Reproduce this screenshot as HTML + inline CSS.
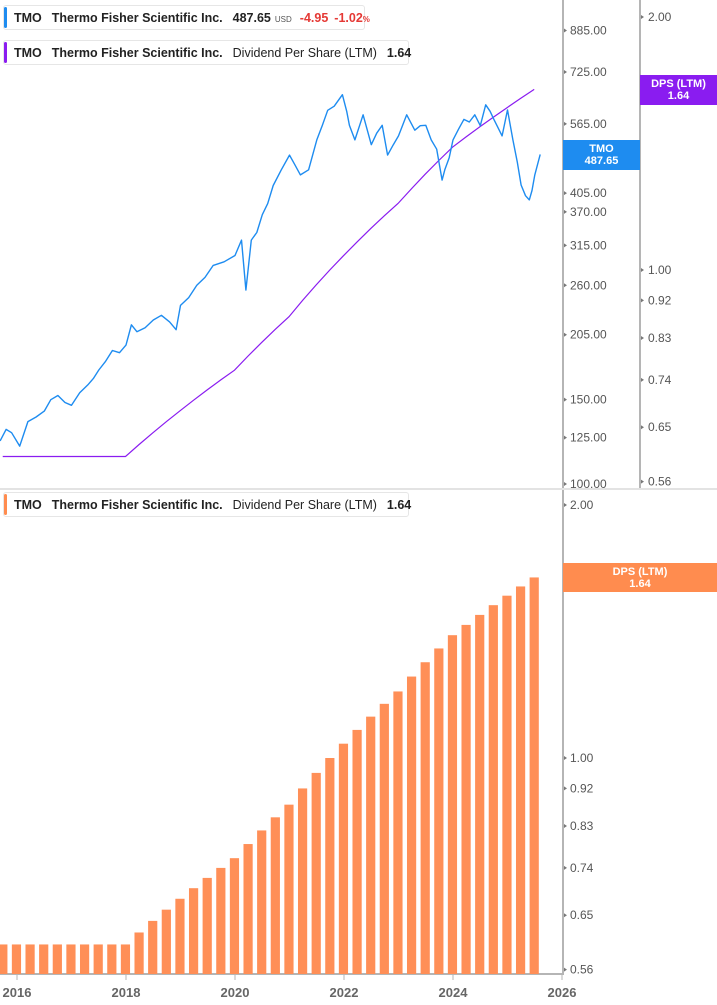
<!DOCTYPE html>
<html><head><meta charset="utf-8">
<style>
html,body{margin:0;padding:0;background:#fff;}
body{width:717px;height:1005px;overflow:hidden;position:relative;font-family:"Liberation Sans",sans-serif;}
svg{position:absolute;left:0;top:0;}
.leg{position:absolute;left:3px;height:25px;border:1px solid #e6e6e6;border-radius:3px;background:#fff;font-size:12.5px;font-weight:bold;color:#222;line-height:25px;white-space:nowrap;box-sizing:border-box;padding-left:10px;}
.leg .bar{position:absolute;left:0;top:1px;bottom:1px;width:3px;border-radius:2px;}
.leg span{margin-right:10px;}
.tag{position:absolute;color:#fff;font-weight:bold;font-size:11px;text-align:center;line-height:12px;}
</style></head>
<body>
<svg id="chart" width="717" height="1005"></svg>

<div class="leg" style="top:5px;width:362px"><div class="bar" style="background:#1e8cf0"></div><span>TMO</span><span>Thermo Fisher Scientific Inc.</span><span style="margin-right:4px">487.65</span><span style="font-size:8px;font-weight:normal;color:#555;margin-right:8px">USD</span><span style="color:#e53935;margin-right:6px">-4.95</span><span style="color:#e53935">-1.02<small style="font-size:8px">%</small></span></div>
<div class="leg" style="top:40px;width:406px"><div class="bar" style="background:#8a1cf0"></div><span>TMO</span><span>Thermo Fisher Scientific Inc.</span><span style="font-weight:normal">Dividend Per Share (LTM)</span><span>1.64</span></div>
<div class="leg" style="top:492px;width:406px"><div class="bar" style="background:#ff8c4f"></div><span>TMO</span><span>Thermo Fisher Scientific Inc.</span><span style="font-weight:normal">Dividend Per Share (LTM)</span><span>1.64</span></div>

<div class="tag" style="left:563px;top:140px;width:77px;height:30px;background:#1e8cf0;padding-top:3px;box-sizing:border-box">TMO<br>487.65</div>
<div class="tag" style="left:640px;top:75px;width:77px;height:30px;background:#8a1cf0;padding-top:3px;box-sizing:border-box">DPS (LTM)<br>1.64</div>
<div class="tag" style="left:563px;top:563px;width:154px;height:29px;background:#ff8c4f;padding-top:3px;box-sizing:border-box">DPS (LTM)<br>1.64</div>

<script>
const priceDates=[2015.69,2015.8,2015.9,2016.05,2016.2,2016.35,2016.5,2016.62,2016.75,2016.88,2017.0,2017.15,2017.3,2017.4,2017.5,2017.62,2017.75,2017.88,2018.0,2018.1,2018.2,2018.35,2018.5,2018.65,2018.8,2018.92,2019.0,2019.15,2019.3,2019.45,2019.6,2019.8,2020.0,2020.12,2020.2,2020.3,2020.4,2020.5,2020.6,2020.7,2020.85,2021.0,2021.1,2021.2,2021.35,2021.5,2021.6,2021.7,2021.82,2021.97,2022.05,2022.1,2022.2,2022.35,2022.5,2022.6,2022.7,2022.8,2022.9,2023.0,2023.15,2023.3,2023.4,2023.5,2023.6,2023.7,2023.8,2023.85,2023.93,2024.0,2024.1,2024.2,2024.3,2024.4,2024.5,2024.6,2024.68,2024.75,2024.9,2025.0,2025.1,2025.18,2025.25,2025.33,2025.4,2025.45,2025.5,2025.6];
const priceValues=[123,130,128,120,135,138,142,150,153,148,146,155,161,166,173,180,190,188,195,215,208,212,220,225,218,210,236,245,260,270,286,291,300,323,254,323,335,365,385,420,453,486,464,442,453,523,560,603,615,650,600,561,523,590,511,540,561,486,510,533,590,548,560,561,523,500,431,453,480,523,550,577,570,590,560,619,600,577,533,604,523,470,421,400,392,410,442,487.65];
const dpsDates=[];
for(let i=0;i<40;i++) dpsDates.push(2015.74+i*0.25);
const dpsValues=[0.60,0.60,0.60,0.60,0.60,0.60,0.60,0.60,0.60,0.60,0.62,0.64,0.66,0.68,0.70,0.72,0.74,0.76,0.79,0.82,0.85,0.88,0.92,0.96,1.00,1.04,1.08,1.12,1.16,1.20,1.25,1.30,1.35,1.40,1.44,1.48,1.52,1.56,1.60,1.64];
const xTicks=[2016,2018,2020,2022,2024,2026];
const priceTicks=[885,725,565,405,370,315,260,205,150,125,100];
const dpsTicks=[2.00,1.00,0.92,0.83,0.74,0.65,0.56];

const NS="http://www.w3.org/2000/svg";
const svg=document.getElementById('chart');
function mk(tag,attrs,name,parent){const e=document.createElementNS(NS,tag);for(const k in attrs)e.setAttribute(k,attrs[k]);


(parent||svg).appendChild(e);return e;}
const X=d=>17+(d-2016)*54.5;
const yPrice=p=>484-208*Math.log(p/100);
const yDpsTop=v=>270-365*Math.log(v);
const yDpsBot=v=>758-365*Math.log(v);

// axes lines
mk('line',{x1:563,y1:0,x2:563,y2:488,stroke:'#b5b5b5','stroke-width':2},'price-axis-line');
mk('line',{x1:640,y1:0,x2:640,y2:488,stroke:'#b5b5b5','stroke-width':2},'dps-axis-line-top');
mk('line',{x1:0,y1:489,x2:717,y2:489,stroke:'#e3e3e3','stroke-width':2},'panel-divider');
mk('line',{x1:563,y1:490,x2:563,y2:975,stroke:'#b5b5b5','stroke-width':2},'dps-axis-line-bottom');
mk('line',{x1:0,y1:974,x2:563,y2:974,stroke:'#b5b5b5','stroke-width':2},'x-axis-line');

priceTicks.forEach(t=>{const y=yPrice(t);
const tx=mk('text',{x:570,y:y+4,'font-size':12,fill:'#555','font-family':'Liberation Sans'},'price-tick-label');tx.textContent=t.toFixed(2);
mk('path',{d:`M564 ${y-2}L567 ${y}L564 ${y+2}Z`,fill:'#777'},'price-tick');});
dpsTicks.forEach(t=>{let y=yDpsTop(t);
let tx=mk('text',{x:648,y:y+4,'font-size':12,fill:'#555','font-family':'Liberation Sans'},'dps-tick-label-top');tx.textContent=t.toFixed(2);
mk('path',{d:`M641 ${y-2}L644 ${y}L641 ${y+2}Z`,fill:'#777'},'dps-tick-top');
y=yDpsBot(t);
tx=mk('text',{x:570,y:y+4,'font-size':12,fill:'#555','font-family':'Liberation Sans'},'dps-tick-label-bottom');tx.textContent=t.toFixed(2);
mk('path',{d:`M564 ${y-2}L567 ${y}L564 ${y+2}Z`,fill:'#777'},'dps-tick-bottom');});
xTicks.forEach(t=>{const x=X(t);
mk('line',{x1:x,y1:975,x2:x,y2:980,stroke:'#b5b5b5','stroke-width':1},'x-tick');
const tx=mk('text',{x:x,y:997,'font-size':13,'font-weight':'bold',fill:'#666','text-anchor':'middle','font-family':'Liberation Sans'},'x-tick-label');tx.textContent=t;});

// bars
dpsValues.forEach((v,i)=>{const x=X(dpsDates[i]);const y=yDpsBot(v);
mk('rect',{x:x-4.6,y:y,width:9.2,height:974-y,fill:'#ff8f57'},'dps-bar');});

// DPS line top
let d='M3 '+yDpsTop(dpsValues[0]);
dpsValues.forEach((v,i)=>{d+=' L'+X(dpsDates[i]).toFixed(1)+' '+yDpsTop(v).toFixed(1);});
mk('path',{d:d,fill:'none',stroke:'#8a1cf0','stroke-width':1.2},'dps-line');

// price line
let pd='';
priceValues.forEach((v,i)=>{pd+=(i?' L':'M')+X(priceDates[i]).toFixed(1)+' '+yPrice(v).toFixed(1);});
mk('path',{d:pd,fill:'none',stroke:'#1e8cf0','stroke-width':1.4,'stroke-linejoin':'round'},'price-line');
</script>
</body></html>
